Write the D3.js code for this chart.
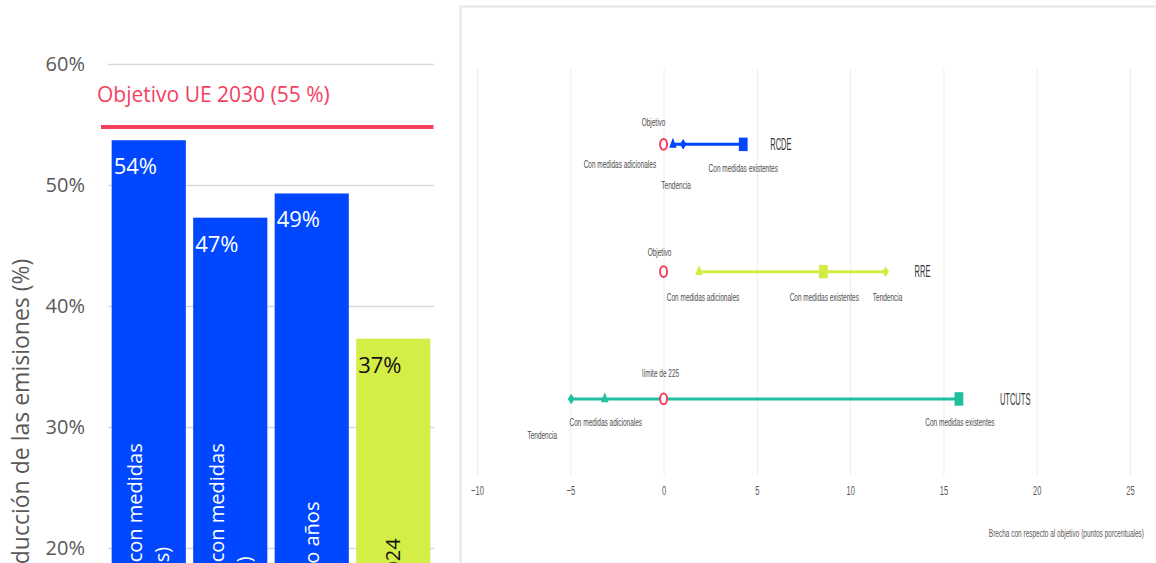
<!DOCTYPE html>
<html><head><meta charset="utf-8">
<script src="https://cdn.jsdelivr.net/npm/d3@7"></script>
<style>
html,body{margin:0;padding:0;background:#fff;overflow:hidden}
svg{display:block}
</style></head><body>
<svg id="chart" width="1156" height="563"></svg>
<script>
// ---------- Left panel data ----------
const barCategories = [
  ["Proyecciones de los EM con medidas", "adicionales (PNEC finales)"],
  ["Proyecciones de los EM con medidas", "existentes (PNEC finales)"],
  ["Tendencia lineal de cinco años"],
  ["Reducción neta 1990-2024"]
];
const barValues = [53.7, 47.3, 49.3, 37.3];
const barKinds = ["proyeccion", "proyeccion", "proyeccion", "historico"];
const yTickValues = [0, 10, 20, 30, 40, 50, 60];
const euTarget = 55;
const euTargetLabel = "Objetivo UE 2030 (55 %)";
const yAxisTitle = "Reducción de las emisiones (%)";

// ---------- Right panel data ----------
const sectors = ["RCDE", "RRE", "UTCUTS"];
const objetivo = [0, 0, 0];
const objetivoLabels = ["Objetivo", "Objetivo", "límite de 225"];
const conMedidasAdicionales = [0.5, 1.9, -3.15];
const conMedidasExistentes = [4.27, 8.56, 15.83];
const tendencia = [1.05, 11.9, -4.95];
const xTickValues = [-10, -5, 0, 5, 10, 15, 20, 25];
const xAxisTitle = "Brecha con respecto al objetivo (puntos porcentuales)";
const seriesNames = { adi: "Con medidas adicionales", exi: "Con medidas existentes", ten: "Tendencia" };

// ---------- styles / layout ----------
const C = {
  blue: "#0047ff", lime: "#d5ee47", teal: "#20bf9f", pink: "#f43f5e",
  grid: "#d9d9d9", text: "#595959", grid2: "#ececec"
};
const sectorColors = { RCDE: "#0047ff", RRE: "#d4ec42", UTCUTS: "#20bf9f" };
// label offsets (screen px) relative to each marker
const labelLayout = {
  RCDE:   { obj: [-10, -21.6], adi: [-53, 20], ten: [-7, 40.7], exi: [0, 24], name: 27 },
  RRE:    { obj: [-4, -19.3],  adi: [4, 26],   ten: [2, 26],    exi: [1, 26], name: 29 },
  UTCUTS: { obj: [-3, -25.7],  adi: [1, 23.3], ten: [-29, 37],  exi: [1, 23.3], name: 41 }
};
const SQ = 0.65; // horizontal squeeze of the right panel

const svg = d3.select("#chart");
const fontL = "'Open Sans', 'Noto Sans', sans-serif";
const fontR = "'Liberation Sans', Arial, sans-serif";

// ================= LEFT PANEL =================
const y = d3.scaleLinear().domain([0, 60]).range([790, 64]);
const xb = d3.scaleBand().domain(d3.range(barValues.length))
  .range([108, 434]).paddingInner(0.09).paddingOuter(0.045);

const yAxis = svg.append("g").attr("transform", "translate(108,0)")
  .call(d3.axisLeft(y).tickValues(yTickValues).tickSize(-(434 - 108)).tickPadding(23)
    .tickFormat(d => d + "%"));
yAxis.select(".domain").remove();
yAxis.selectAll("line").attr("stroke", C.grid).attr("stroke-width", 1.6);
yAxis.selectAll("text").attr("fill", C.text).style("font-family", fontL).style("font-size", "20px");

// bars
const bars = svg.append("g");
bars.selectAll("rect").data(barValues).join("rect")
  .attr("x", (d, i) => xb(i)).attr("y", d => y(d))
  .attr("width", xb.bandwidth()).attr("height", d => y(0) - y(d))
  .attr("fill", (d, i) => barKinds[i] === "historico" ? C.lime : C.blue);

// value labels
bars.selectAll("text.val").data(barValues).join("text").attr("class", "val")
  .attr("x", (d, i) => xb(i) + 2).attr("y", d => y(d) + 34)
  .attr("fill", (d, i) => barKinds[i] === "historico" ? "#111" : "#fff")
  .style("font-family", fontL).style("font-size", "22px")
  .text(d => Math.round(d) + "%");

// rotated category labels
barCategories.forEach((lines, i) => {
  const cx = xb(i) + xb.bandwidth() / 2;
  const n = lines.length;
  lines.forEach((t, j) => {
    svg.append("text")
      .attr("transform", `translate(${cx + 7 + (j - (n - 1) / 2) * 27},${y(0) - 5}) rotate(-90)`)
      .attr("text-anchor", "start")
      .attr("fill", barKinds[i] === "historico" ? "#111" : "#fff")
      .style("font-family", fontL).style("font-size", "20px")
      .text(t);
  });
});

// EU target line
svg.append("line").attr("x1", 101).attr("x2", 433.5)
  .attr("y1", y(euTarget) + 2.5).attr("y2", y(euTarget) + 2.5)
  .attr("stroke", C.pink).attr("stroke-width", 4);
svg.append("text").attr("x", 97).attr("y", y(euTarget) - 22.5)
  .attr("fill", C.pink).style("font-family", fontL).style("font-size", "21px")
  .text(euTargetLabel);

// y axis title
svg.append("text").attr("transform", "translate(28.5,425) rotate(-90)")
  .attr("text-anchor", "middle").attr("fill", C.text)
  .style("font-family", fontL).style("font-size", "23px")
  .text(yAxisTitle);

// ================= RIGHT PANEL =================
svg.append("path").attr("d", "M460.5,563 V6.5 H1156")
  .attr("fill", "none").attr("stroke", "#e6e6e6").attr("stroke-width", 2);

const x = d3.scaleLinear().domain([-10, 25]).range([477, 1130]);
const xAxis = svg.append("g").attr("transform", "translate(0,475)")
  .call(d3.axisBottom(x).tickValues(xTickValues).tickSize(-(475 - 69)).tickPadding(15)
    .tickFormat(d3.format("d")));
xAxis.select(".domain").remove();
xAxis.selectAll("line").attr("stroke", C.grid2).attr("stroke-width", 1);
xAxis.selectAll("text").attr("fill", C.text).attr("dy", "0.35em")
  .attr("transform", "scale(0.58,1)")
  .style("font-family", fontR).style("font-size", "13px");

svg.append("text").attr("transform", `translate(1144,533) scale(${SQ},1)`)
  .attr("text-anchor", "end").attr("dy", "0.35em").attr("fill", C.text)
  .style("font-family", fontR).style("font-size", "10px")
  .text(xAxisTitle);

const yr = d3.scaleBand().domain(sectors).range([80.7, 462.6]);
const sym = (type, size) => d3.symbol().type(type).size(size)();

sectors.forEach((s, i) => {
  const cy = yr(s) + yr.bandwidth() / 2;
  const col = sectorColors[s];
  const vals = [conMedidasAdicionales[i], tendencia[i], conMedidasExistentes[i]];
  const lo = d3.min(vals), hi = d3.max(vals);
  const g = svg.append("g");
  const lay = labelLayout[s];

  g.append("line").attr("x1", x(lo)).attr("x2", x(hi)).attr("y1", cy).attr("y2", cy)
    .attr("stroke", col).attr("stroke-width", 3);

  g.append("path").attr("d", sym(d3.symbolTriangle, 58))
    .attr("transform", `translate(${x(conMedidasAdicionales[i])},${cy}) scale(${SQ},1)`).attr("fill", col);
  g.append("path").attr("d", sym(d3.symbolDiamond2, 70))
    .attr("transform", `translate(${x(tendencia[i])},${cy}) scale(${SQ},1)`).attr("fill", col);
  g.append("path").attr("d", sym(d3.symbolSquare, 182))
    .attr("transform", `translate(${x(conMedidasExistentes[i])},${cy}) scale(${SQ},1)`).attr("fill", col);
  g.append("ellipse").attr("cx", x(objetivo[i])).attr("cy", cy)
    .attr("rx", 5.4 * SQ).attr("ry", 5.4)
    .attr("fill", "#fff").attr("stroke", C.pink).attr("stroke-width", 2);

  const lbl = (v, off, t) => g.append("text")
    .attr("transform", `translate(${x(v) + off[0]},${cy + off[1]}) scale(${SQ},1)`)
    .attr("text-anchor", "middle").attr("dy", "0.35em").attr("fill", "#4d4d4d")
    .style("font-family", fontR).style("font-size", "10px").text(t);
  lbl(objetivo[i], lay.obj, objetivoLabels[i]);
  lbl(conMedidasAdicionales[i], lay.adi, seriesNames.adi);
  lbl(tendencia[i], lay.ten, seriesNames.ten);
  lbl(conMedidasExistentes[i], lay.exi, seriesNames.exi);

  g.append("text")
    .attr("transform", `translate(${x(hi) + lay.name},${cy}) scale(0.47,1)`)
    .attr("text-anchor", "start").attr("dy", "0.35em").attr("fill", "#333")
    .style("font-family", fontR).style("font-size", "16px").text(s);
});
</script>
</body></html>
